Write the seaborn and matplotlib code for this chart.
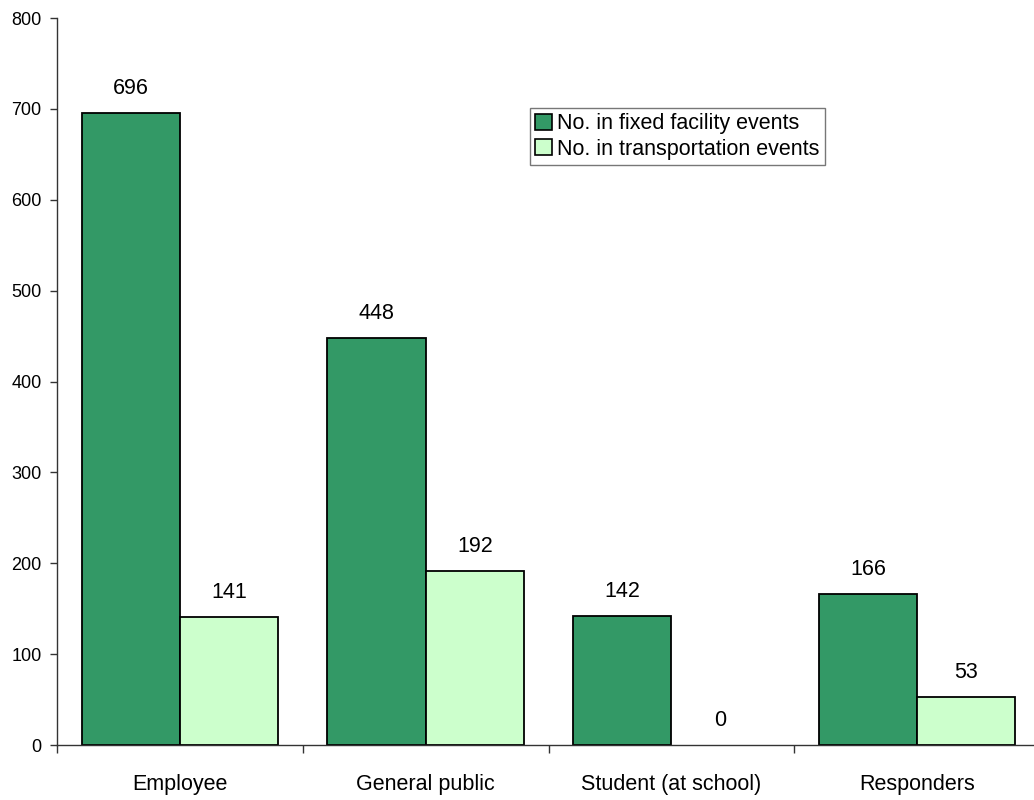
import matplotlib
matplotlib.use("Agg")
import matplotlib.pyplot as plt
import seaborn as sns
import pandas as pd
from matplotlib.ticker import FixedLocator

categories = ["Employee", "General public", "Student (at school)", "Responders"]
fixed_facility = [696, 448, 142, 166]
transportation = [141, 192, 0, 53]
series_names = ["No. in fixed facility events", "No. in transportation events"]
colors = ["#339966", "#CCFFCC"]
y_ticks = [0, 100, 200, 300, 400, 500, 600, 700, 800]

df = pd.DataFrame({
    "category": categories * 2,
    "value": fixed_facility + transportation,
    "series": [series_names[0]] * 4 + [series_names[1]] * 4,
})

sns.set_style("white")
plt.rcParams["font.family"] = ["Liberation Sans", "DejaVu Sans"]
plt.rcParams["text.color"] = "black"
plt.rcParams["xtick.color"] = "black"
plt.rcParams["ytick.color"] = "black"

fig = plt.figure(figsize=(10.34, 8), dpi=100)
ax = fig.add_axes([57 / 1034, 55 / 800, (1040 - 57) / 1034, (745 - 18) / 800])

sns.barplot(data=df, x="category", y="value", hue="series", order=categories,
            hue_order=series_names, palette=colors, width=0.8, ax=ax,
            edgecolor="black", linewidth=1.3, saturation=1)

for cont in ax.containers:
    for bar, v in zip(cont, cont.datavalues):
        if v == 0:
            bar.set_linewidth(0)
    ax.bar_label(cont, labels=[f"{int(v)}" for v in cont.datavalues],
                 padding=10, fontsize=15.5, color="black")

ax.set_xlim(-0.5, 3.5)
ax.set_ylim(0, 800)
ax.set_yticks(y_ticks)
ax.set_xlabel("")
ax.set_ylabel("")
ax.tick_params(axis="y", labelsize=13, length=5, width=1, direction="out",
               pad=6, left=True, color="#333333", labelcolor="black")
ax.tick_params(axis="x", which="major", labelsize=15.5, length=0, pad=21,
               labelcolor="black")
ax.xaxis.set_minor_locator(FixedLocator([-0.5, 0.5, 1.5, 2.5, 3.5]))
ax.tick_params(axis="x", which="minor", length=6, width=1, direction="out",
               bottom=True, color="#333333")

for s in ["top", "right"]:
    ax.spines[s].set_visible(False)
for s in ["left", "bottom"]:
    ax.spines[s].set_color("#333333")
    ax.spines[s].set_linewidth(1)

leg = ax.legend(loc="upper left", bbox_to_anchor=(530 / 1034, 1 - 108 / 800),
                bbox_transform=fig.transFigure, fontsize=15.5, frameon=True,
                fancybox=False, edgecolor="#555555", handlelength=0.75,
                handleheight=0.75, handletextpad=0.25, borderpad=0.25,
                labelspacing=0.2, borderaxespad=0)
leg.get_frame().set_linewidth(1)
for h in leg.legend_handles:
    h.set_edgecolor("black")
    h.set_linewidth(1.2)

fig.savefig("out.png", dpi=100)
